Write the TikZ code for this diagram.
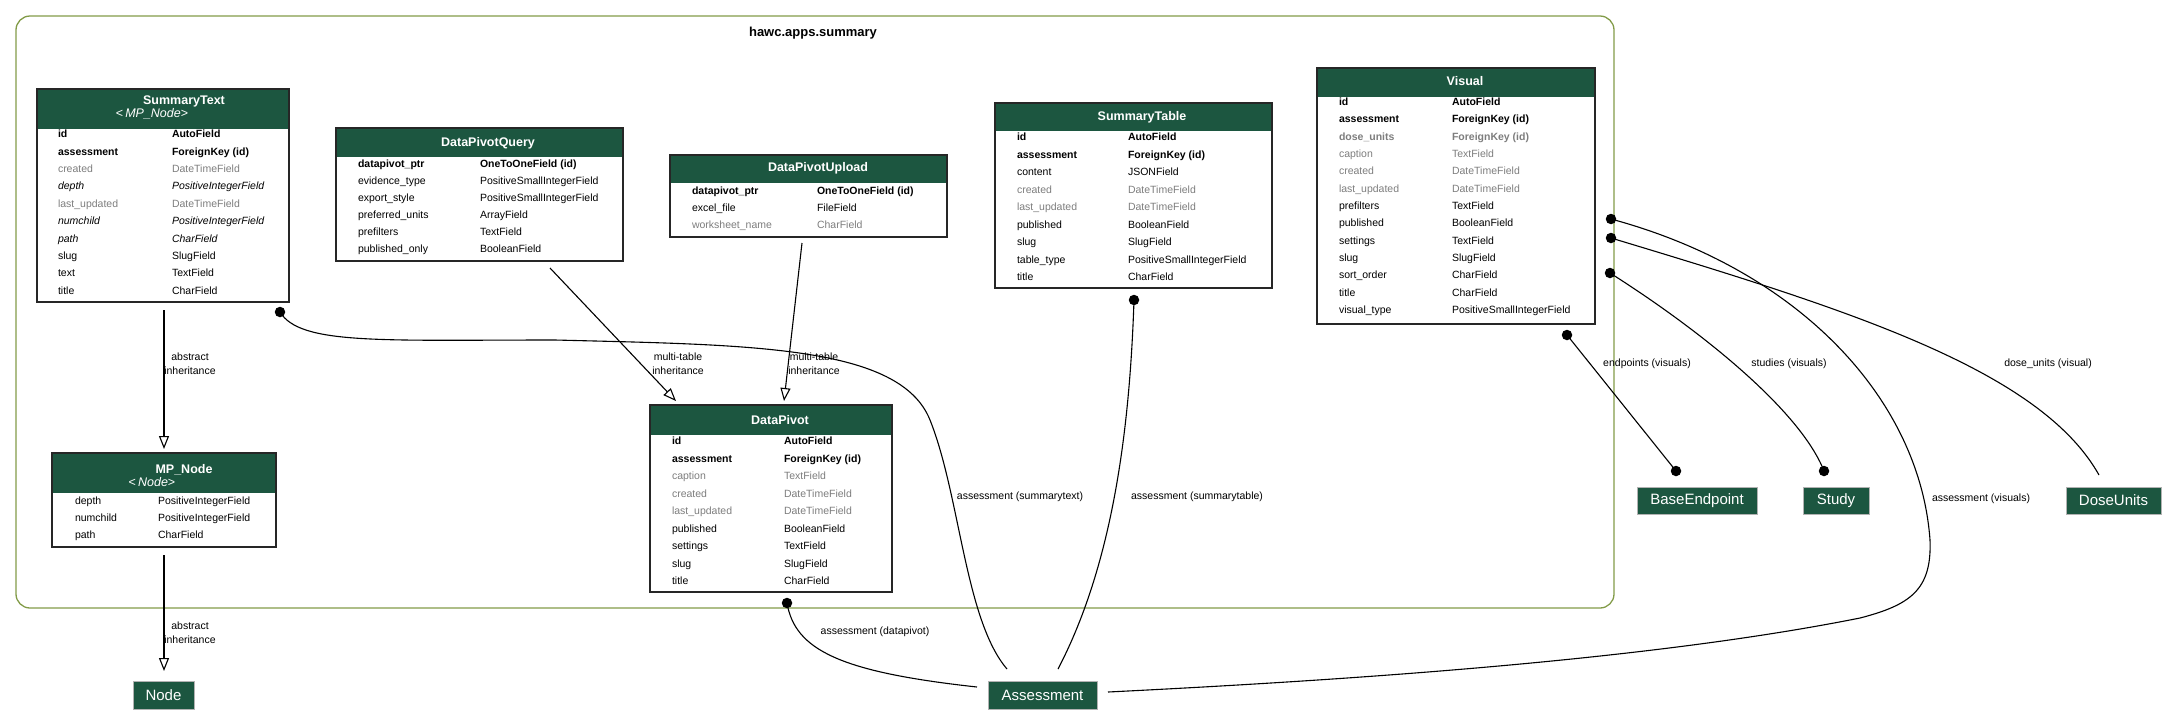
\documentclass[tikz,border=0pt]{standalone}
\usepackage{fontspec}
\setmainfont{Liberation Sans}
\usetikzlibrary{arrows.meta}
\definecolor{hdr}{RGB}{28,86,64}
\definecolor{clus}{RGB}{130,155,72}
\definecolor{fgray}{RGB}{125,125,125}
\newcommand{\fB}[1]{\textbf{#1}}
\newcommand{\fG}[1]{\textcolor{fgray}{#1}}
\newcommand{\fGB}[1]{\textcolor{fgray}{\textbf{#1}}}
\newcommand{\fI}[1]{\textit{#1}}
% name, x1, y1, x2, y header bottom, y2
\newcommand{\erbox}[6]{%
  \fill[hdr] (#2,#3) rectangle (#4,#5);
  \node[tbox, minimum width=#4-#2, minimum height=#6-#3] (#1) at (#2,#3) {};}
% name, x name, x type, y start, dy, list
\newcommand{\erfields}[6]{%
  \foreach \fnm/\ftp [count=\i from 0] in {#6} {
    \node[fld] (#1-n\i) at (#2, #4+\i*#5) {\fnm};
    \node[fld] (#1-t\i) at (#3, #4+\i*#5) {\ftp};
  }}
\begin{document}
\begin{tikzpicture}[x=1pt,y=-1pt,
  every node/.style={inner sep=0pt, outer sep=0pt},
  tbox/.style={draw=black!85, line width=1.3pt, anchor=north west},
  fld/.style={font=\fontsize{10.5}{12}\selectfont, anchor=mid west},
  ttl/.style={text=white, font=\bfseries\fontsize{12.5}{14}\selectfont},
  sub/.style={text=white, font=\fontsize{12.5}{14}\selectfont},
  ext/.style={fill=hdr, draw=black!30, line width=0.8pt, text=white, font=\fontsize{15}{18}\selectfont, minimum height=28},
  dot/.style={circle, fill=black, minimum size=10.5},
  conn/.style={line width=1.1pt, black},
  inh/.style={line width=1.1pt, black, -{Triangle[open, length=13, width=10]}},
  elab/.style={font=\fontsize{10.5}{14}\selectfont, align=center}
]
\useasboundingbox (0,0) rectangle (2177,724);

% cluster
\node[draw=clus, line width=1.3pt, rounded corners=14, minimum width=1598, minimum height=592, anchor=north west] (cluster) at (16,16) {};
\node[font=\bfseries\fontsize{13}{15}\selectfont] (clustertitle) at (813,33) {hawc.apps.summary};

% SummaryText
\erbox{st}{37}{89}{289}{129}{302}
\node[ttl] (st-title) at (184,101) {SummaryText};
\node[sub] (st-sub) at (152,114) {<\,\textit{MP\_Node}>};
\erfields{st}{58}{172}{135}{17.4}{\fB{id}/\fB{AutoField}, \fB{assessment}/\fB{ForeignKey (id)}, \fG{created}/\fG{DateTimeField}, \fI{depth}/\fI{PositiveIntegerField}, \fG{last\_updated}/\fG{DateTimeField}, \fI{numchild}/\fI{PositiveIntegerField}, \fI{path}/\fI{CharField}, slug/SlugField, text/TextField, title/CharField}

% DataPivotQuery
\erbox{dpq}{336}{128}{623}{157}{261}
\node[ttl] (dpq-title) at (488,143) {DataPivotQuery};
\erfields{dpq}{358}{480}{165}{17}{\fB{datapivot\_ptr}/\fB{OneToOneField (id)}, evidence\_type/PositiveSmallIntegerField, export\_style/PositiveSmallIntegerField, preferred\_units/ArrayField, prefilters/TextField, published\_only/BooleanField}

% DataPivotUpload
\erbox{dpu}{670}{155}{947}{183}{237}
\node[ttl] (dpu-title) at (818,168) {DataPivotUpload};
\erfields{dpu}{692}{817}{192}{17}{\fB{datapivot\_ptr}/\fB{OneToOneField (id)}, excel\_file/FileField, \fG{worksheet\_name}/\fG{CharField}}

% SummaryTable
\erbox{stab}{995}{103}{1272}{131}{288}
\node[ttl] (stab-title) at (1142,117) {SummaryTable};
\erfields{stab}{1017}{1128}{138}{17.5}{\fB{id}/\fB{AutoField}, \fB{assessment}/\fB{ForeignKey (id)}, content/JSONField, \fG{created}/\fG{DateTimeField}, \fG{last\_updated}/\fG{DateTimeField}, published/BooleanField, slug/SlugField, table\_type/PositiveSmallIntegerField, title/CharField}

% Visual
\erbox{vis}{1317}{68}{1595}{97}{324}
\node[ttl] (vis-title) at (1465,81) {Visual};
\erfields{vis}{1339}{1452}{103}{17.33}{\fB{id}/\fB{AutoField}, \fB{assessment}/\fB{ForeignKey (id)}, \fGB{dose\_units}/\fGB{ForeignKey (id)}, \fG{caption}/\fG{TextField}, \fG{created}/\fG{DateTimeField}, \fG{last\_updated}/\fG{DateTimeField}, prefilters/TextField, published/BooleanField, settings/TextField, slug/SlugField, sort\_order/CharField, title/CharField, visual\_type/PositiveSmallIntegerField}

% DataPivot
\erbox{dp}{650}{405}{892}{435}{592}
\node[ttl] (dp-title) at (780,420) {DataPivot};
\erfields{dp}{672}{784}{442}{17.5}{\fB{id}/\fB{AutoField}, \fB{assessment}/\fB{ForeignKey (id)}, \fG{caption}/\fG{TextField}, \fG{created}/\fG{DateTimeField}, \fG{last\_updated}/\fG{DateTimeField}, published/BooleanField, settings/TextField, slug/SlugField, title/CharField}

% MP_Node
\erbox{mp}{52}{453}{276}{493}{547}
\node[ttl] (mp-title) at (184,470) {MP\_Node};
\node[sub] (mp-sub) at (152,482) {<\,\textit{Node}>};
\erfields{mp}{75}{158}{502}{17}{depth/PositiveIntegerField, numchild/PositiveIntegerField, path/CharField}

% external nodes
\node[ext, minimum width=61] (node) at (163.5,695) {Node};
\node[ext, minimum width=109] (assessment) at (1042.5,695) {Assessment};
\node[ext, minimum width=120, minimum height=27] (baseendpoint) at (1697,500.5) {BaseEndpoint};
\node[ext, minimum width=66, minimum height=27] (study) at (1836,500.5) {Study};
\node[ext, minimum width=95, minimum height=27] (doseunits) at (2113.5,500.5) {DoseUnits};

% inheritance connectors
\coordinate (i1s) at (164,310); \coordinate (i1e) at (164,449);
\coordinate (i2s) at (164,555); \coordinate (i2e) at (164,671);
\coordinate (i3s) at (550,268); \coordinate (i3e) at (676,401);
\coordinate (i4s) at (802,243); \coordinate (i4e) at (784,401);
\draw[inh] (i1s) -- (i1e);
\draw[inh] (i2s) -- (i2e);
\draw[inh] (i3s) -- (i3e);
\draw[inh] (i4s) -- (i4e);
\node[elab] (l1) at (190,364) {abstract\\inheritance};
\node[elab] (l2) at (190,633) {abstract\\inheritance};
\node[elab] (l3) at (678,364) {multi-table\\inheritance};
\node[elab] (l4) at (814,364) {multi-table\\inheritance};

% dots
\node[dot] (d-st) at (280,312) {};
\node[dot] (d-stab) at (1134,300) {};
\node[dot] (d-dp) at (787,603) {};
\node[dot] (d-va) at (1611,219) {};
\node[dot] (d-vd) at (1611,238) {};
\node[dot] (d-vs) at (1610,273) {};
\node[dot] (d-ve) at (1567,335) {};
\node[dot] (d-be) at (1676,471) {};
\node[dot] (d-sy) at (1824,471) {};

% free ends at Assessment / DoseUnits
\coordinate (a-st) at (1007,669);
\coordinate (a-stab) at (1058,669);
\coordinate (a-dp) at (977,687);
\coordinate (a-v) at (1108,692);
\coordinate (du-end) at (2099,475);

% assessment connectors
\draw[conn] (d-st.center) .. controls (300,345) and (380,340) .. (555,340)
  .. controls (750,345) and (900,345) .. (930,420)
  .. controls (960,495) and (965,620) .. (a-st);
\draw[conn] (d-stab.center) .. controls (1130,420) and (1115,560) .. (a-stab);
\draw[conn] (d-dp.center) .. controls (795,650) and (840,672) .. (a-dp);
\draw[conn] (d-va.center) .. controls (1800,270) and (1920,400) .. (1930,540)
  .. controls (1932,590) and (1910,605) .. (1860,618)
  .. controls (1650,660) and (1350,680) .. (a-v);
\draw[conn] (d-vd.center) .. controls (1850,310) and (2040,370) .. (du-end);
\draw[conn] (d-vs.center) .. controls (1700,330) and (1800,410) .. (d-sy.center);
\draw[conn] (d-ve.center) -- (d-be.center);

\node[elab] (l5) at (1020,497) {assessment (summarytext)};
\node[elab] (l6) at (1197,497) {assessment (summarytable)};
\node[elab] (l7) at (875,632) {assessment (datapivot)};
\node[elab] (l8) at (1981,499) {assessment (visuals)};
\node[elab] (l9) at (1647,364) {endpoints (visuals)};
\node[elab] (l10) at (1789,364) {studies (visuals)};
\node[elab] (l11) at (2048,364) {dose\_units (visual)};
\end{tikzpicture}
\end{document}
